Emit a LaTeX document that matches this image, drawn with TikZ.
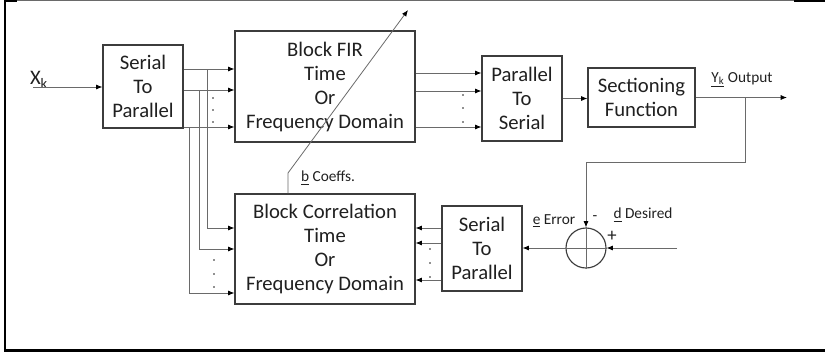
\documentclass[tikz,border=0pt]{standalone}
\usepackage{fontspec}
\setmainfont{Carlito}
\usetikzlibrary{arrows.meta,calc}
\definecolor{boxc}{HTML}{3C3C3C}
\definecolor{wirec}{HTML}{6A6A6A}
\definecolor{txt}{HTML}{202020}
\tikzset{
  box/.style={draw=boxc, line width=0.85pt, fill=white, inner sep=0pt,
              font=\fontsize{15.5}{18}\selectfont, align=center, text=txt},
  wire/.style={draw=wirec, line width=0.6pt},
  arr/.style={wire, -{Latex[length=4.8pt,width=3.8pt,color=black]}},
  lbl/.style={font=\fontsize{11.5}{13}\selectfont, text=txt, inner sep=0pt},
  tapdot/.style={fill=txt},
}
\begin{document}
\begin{tikzpicture}[x=0.75pt,y=-0.75pt]
\useasboundingbox (0,0) rectangle (825,355);

% outer frame
\draw[line width=1.9pt, black] (5,0) -- (5,350.5) -- (825,350.5);
\draw[line width=0.8pt, wirec] (17,0.7) -- (794,0.7);
\fill[black] (4,0) rectangle (17,1.6);
\fill[black] (794,0) rectangle (825,1.8);

% blocks
\node[box, minimum width=60pt, minimum height=62.25pt] (sp1) at (143,86.5) {Serial\\To\\Parallel};
\node[box, minimum width=135pt, minimum height=83.25pt] (fir) at (325,86.5) {Block FIR\\Time\\Or\\Frequency Domain};
\node[box, minimum width=135pt, minimum height=82.5pt] (bc) at (325,249) {Block Correlation\\Time\\Or\\Frequency Domain};
\node[box, minimum width=60pt, minimum height=63.75pt] (p2s) at (522,98.5) {Parallel\\To\\Serial};
\node[box, minimum width=80.25pt, minimum height=44.25pt] (sec) at (641.5,97.5) {Sectioning\\Function};
\node[box, minimum width=60pt, minimum height=63.75pt] (sp2) at (482,248.5) {Serial\\To\\Parallel};
\node[draw=boxc, line width=0.85pt, circle, minimum size=30pt, inner sep=0pt] (sum) at (586,248) {};
\draw[wire] (sum.north) -- (sum.south);
\draw[wire] (sum.west) -- (sum.east);

% row heights
\coordinate (ra) at (0,69);  \coordinate (rb) at (0,90);  \coordinate (rc) at (0,127);
\coordinate (qa) at (0,73);  \coordinate (qb) at (0,91);  \coordinate (qc) at (0,127);
\coordinate (ca) at (0,228); \coordinate (cb) at (0,249); \coordinate (cc) at (0,293);
\coordinate (ea) at (0,228); \coordinate (eb) at (0,243); \coordinate (ec) at (0,280);

% input
\coordinate (xin) at (33,87);
\node[font=\fontsize{15.5}{18}\selectfont, text=txt, inner sep=0pt] (xk) at (39,80) {X\textsubscript{k}};
\draw[arr] (xin) -- (sp1.west |- xin);

% serial-to-parallel into the FIR block
\draw[arr] (sp1.east |- ra) -- (fir.west |- ra);
\draw[arr] (sp1.east |- rb) -- (fir.west |- rb);
\draw[arr] (sp1.east |- rc) -- (fir.west |- rc);
\foreach \y in {98,110,122} \fill[tapdot] (213,\y) circle (0.7pt);

% taps down into the correlation block
\coordinate (ta) at (207,69);
\coordinate (tb) at (199,90);
\coordinate (tc) at (189,127);
\draw[arr] (ta) |- (bc.west |- ca);
\draw[arr] (tb) |- (bc.west |- cb);
\draw[arr] (tc) |- (bc.west |- cc);
\foreach \y in {260,274,287} \fill[tapdot] (214,\y) circle (0.7pt);

% FIR block into parallel-to-serial
\draw[arr] (fir.east |- qa) -- (p2s.west |- qa);
\draw[arr] (fir.east |- qb) -- (p2s.west |- qb);
\draw[arr] (fir.east |- qc) -- (p2s.west |- qc);
\foreach \y in {95,108,122} \fill[tapdot] (463,\y) circle (0.7pt);

% sectioning and output
\draw[arr] (p2s.east) -- (p2s.east -| sec.west);
\coordinate (yout) at (787,97.5);
\draw[arr] (sec.east) -- (yout);
\node[lbl] (ylbl) at (742,80) {\underline{Y\textsubscript{k}} Output};

% error feedback
\coordinate (tap) at (745,97.5);
\coordinate (fb) at (745,162);
\draw[arr] (tap) -- (fb) -| (sum.north);
\coordinate (din) at (677,248);
\draw[arr] (din) -- (sum.east);
\draw[arr] (sum.west) -- (sum.west -| sp2.east);
\node[lbl] (minus) at (595,218) {-};
\node[font=\fontsize{14}{16}\selectfont, text=txt, inner sep=0pt] (plus) at (612,236) {+};
\node[lbl] (dlbl) at (643,215) {\underline{d} Desired};
\node[lbl] (elbl) at (554,221) {\underline{e} Error};

% serial-to-parallel into the correlation block
\draw[arr] (sp2.west |- ea) -- (bc.east |- ea);
\draw[arr] (sp2.west |- eb) -- (bc.east |- eb);
\draw[arr] (sp2.west |- ec) -- (bc.east |- ec);
\foreach \y in {249,263,277} \fill[tapdot] (430,\y) circle (0.7pt);

% coefficient update
\coordinate (bend) at (288,173);
\coordinate (btip) at (408,10);
\draw[arr] (bc.north -| bend) -- (bend) -- (btip);
\node[lbl] (blbl) at (328,178) {\underline{b} Coeffs.};
\end{tikzpicture}
\end{document}
